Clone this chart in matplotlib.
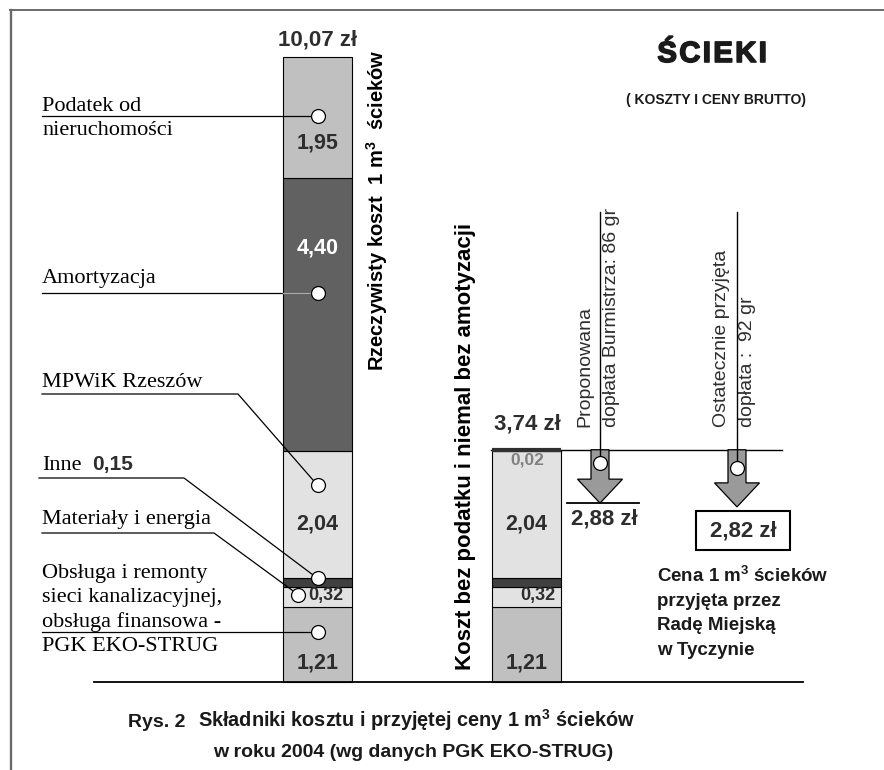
import numpy as np
import matplotlib.pyplot as plt
import matplotlib.patheffects as pe

plt.rcParams['font.family'] = ['Liberation Sans', 'DejaVu Sans']
plt.rcParams['mathtext.fontset'] = 'custom'
plt.rcParams['mathtext.bf'] = 'Liberation Sans:bold'
plt.rcParams['mathtext.rm'] = 'Liberation Sans'

# Dane: skladniki kosztu 1 m3 sciekow (zl), od dolu slupka
skladniki = ['PGK EKO-STRUG', 'Materiały i energia', 'Inne', 'MPWiK Rzeszów',
             'Amortyzacja', 'Podatek od nieruchomości']
koszt_rzeczywisty = [1.21, 0.32, 0.15, 2.04, 4.40, 1.95]
koszt_bez_podatku = [1.21, 0.32, 0.15, 2.04, 0.02, 0.00]
kolory = ['#c0c0c0', '#e2e2e2', '#404040', '#e2e2e2', '#616161', '#c0c0c0']
doplata_burmistrz = 0.86
doplata_przyjeta = 0.92

# Skala rysunku: 0 zl na wys. 682 px, 62.1 px na 1 zl
Y0, SKALA = 682.0, 62.1


def py(y_px):
    return (Y0 - y_px) / SKALA


def zl(v):
    return f'{v:.2f}'.replace('.', ',')


fig = plt.figure(figsize=(8.84, 7.70), dpi=100)
ax = fig.add_axes([0, 0, 1, 1])
ax.set_xlim(0, 884)
ax.set_ylim(py(770), py(0))
ax.axis('off')

serif = ['Liberation Serif', 'DejaVu Serif']
szary_txt = '#2e2e2e'
m3 = r'm$\mathbf{^3}$'

# ramka
ax.plot([10.5, 10.5], [py(10), py(770)], color='#6a6a6a', lw=1.7)
ax.plot([10, 884], [py(10.5), py(10.5)], color='#6a6a6a', lw=1.4)

# slupki
x1, x2, szer = 317.5, 526.3, 69
dol1 = np.concatenate([[0], np.cumsum(koszt_rzeczywisty)[:-1]])
dol2 = np.concatenate([[0], np.cumsum(koszt_bez_podatku)[:-1]])
ax.bar([x1] * 6, koszt_rzeczywisty, bottom=dol1, width=szer, color=kolory,
       edgecolor='black', linewidth=0.8, zorder=2)
ax.bar([x2] * 5, koszt_bez_podatku[:5], bottom=dol2[:5], width=szer,
       color=kolory[:5], edgecolor='black', linewidth=0.8, zorder=2)
ax.plot([x2 - szer / 2, x2 + szer / 2], [sum(koszt_bez_podatku)] * 2,
        color='#303030', lw=3, zorder=3, solid_capstyle='butt')

suma1 = sum(koszt_rzeczywisty)
suma2 = sum(koszt_bez_podatku)
ax.plot([94, 803], [0, 0], color='black', lw=1.3, zorder=3)

# etykiety wartosci w slupkach
frac_lab = [0.25, 0.55, None, 0.42, 0.743, 0.29]
for i, v in enumerate(koszt_rzeczywisty):
    if frac_lab[i] is None:
        continue
    xx = x1 + 8 if i == 1 else x1
    fs = 13 if i == 1 else 15.5
    c = 'white' if i == 4 else szary_txt
    ax.text(xx, dol1[i] + frac_lab[i] * v, zl(v), ha='center', va='center',
            fontsize=fs, fontweight='bold', color=c, zorder=5)
for i, v in enumerate(koszt_bez_podatku[:4]):
    if frac_lab[i] is None:
        continue
    xx = x2 + 12 if i == 1 else x2
    fs = 13 if i == 1 else 15.5
    ax.text(xx, dol2[i] + frac_lab[i] * v, zl(v), ha='center', va='center',
            fontsize=fs, fontweight='bold', color=szary_txt, zorder=5)
ax.text(x2 + 1, py(460), zl(koszt_bez_podatku[4]), ha='center', va='center',
        fontsize=12.5, fontweight='bold', color='#808080', zorder=5)

ax.text(x1, py(40), zl(suma1) + ' zł', ha='center', va='center',
        fontsize=16, fontweight='bold', color=szary_txt)
ax.text(527, py(424), zl(suma2) + ' zł', ha='center', va='center',
        fontsize=16, fontweight='bold', color=szary_txt)

# kolka i linie odniesienia
frac_kol = [0.665, 0.62, 0.93, 0.73, 0.58, 0.51]
kol_x = [x1, 298, x1, x1, x1, x1]
kol_y = [dol1[i] + frac_kol[i] * v for i, v in enumerate(koszt_rzeczywisty)]
sciezki = [
    [(42, None)],
    [(42, 533), (214, 533)],
    [(39, 478), (184, 478)],
    [(42, 394), (238, 394)],
    [(42, None)],
    [(42, None)],
]
for i in range(6):
    xs = [p[0] for p in sciezki[i]] + [kol_x[i]]
    ys = [kol_y[i] if p[1] is None else py(p[1]) for p in sciezki[i]] + [kol_y[i]]
    ax.plot(xs, ys, color='black', lw=0.9, zorder=4)
ax.plot([x1 - szer / 2, x1], [kol_y[4]] * 2, color='#aaaaaa', lw=1, zorder=4)
ax.plot(kol_x, kol_y, 'o', ms=10, mfc='white', mec='black', mew=0.9, zorder=6)

# opisy po lewej
ax.text(42, py(111), 'Podatek od', fontsize=16, family=serif, va='baseline')
ax.text(42, py(135), 'nieruchomości', fontsize=16, family=serif, va='baseline')
ax.text(42, py(283), skladniki[4], fontsize=16, family=serif, va='baseline')
ax.text(42, py(387), skladniki[3], fontsize=16, family=serif, va='baseline')
ax.text(42, py(470), skladniki[2], fontsize=16, family=serif, va='baseline')
ax.text(92, py(470), zl(koszt_rzeczywisty[2]), fontsize=15, fontweight='bold',
        va='baseline', color=szary_txt)
ax.text(42, py(524), skladniki[1], fontsize=16, family=serif, va='baseline')
obsluga = ['Obsługa i remonty', 'sieci kanalizacyjnej,', 'obsługa finansowa -',
           'PGK EKO-STRUG']
for k, s in enumerate(obsluga):
    ax.text(42, py(578 + 24.3 * k), s, fontsize=16, family=serif, va='baseline')

# napisy pionowe
ax.text(377, py(210), 'Rzeczywisty koszt  1 ' + m3 + '  ścieków', rotation=90,
        ha='center', va='center', fontsize=14.5, fontweight='bold')
ax.text(466, py(446), 'Koszt bez podatku i niemal bez amotyzacji', rotation=90,
        ha='center', va='center', fontsize=16, fontweight='bold')

# tytul
ax.text(712, py(54), 'Ś C I E K I'.replace(' ', '\u200a'), ha='center', va='center',
        fontsize=21, fontweight='bold', color='#1a1a1a',
        path_effects=[pe.withStroke(linewidth=1.2, foreground='#1a1a1a')])
ax.text(716, py(100), '( KOSZTY I CENY BRUTTO)', ha='center', va='center',
        fontsize=10, fontweight='bold', color='#1a1a1a')

# linia poziomu 3,74 i strzalki doplat
ax.plot([491, 782], [suma2, suma2], color='black', lw=1, zorder=1)
ceny = [suma2 - doplata_burmistrz, suma2 - doplata_przyjeta]
strz_x = [600, 737]
kol_strz = [py(463), py(468)]
for xs, cena, yk in zip(strz_x, ceny, kol_strz):
    glowa = cena + 24 / SKALA
    pts = [(xs - 9, suma2), (xs + 9, suma2), (xs + 9, glowa), (xs + 22.5, glowa),
           (xs, cena), (xs - 22.5, glowa), (xs - 9, glowa)]
    ax.add_patch(plt.Polygon(pts, closed=True, facecolor='#9a9a9a',
                             edgecolor='black', lw=0.9, zorder=3))
    ax.plot([xs, xs], [py(212), yk], color='black', lw=1, zorder=4)
    ax.plot([xs], [yk], 'o', ms=10, mfc='white', mec='black', mew=0.9, zorder=6)

ax.plot([567, 639], [ceny[0], ceny[0]], color='black', lw=1.3)
ax.text(604, py(519), zl(ceny[0]) + ' zł', ha='center', va='center',
        fontsize=16, fontweight='bold', color=szary_txt)
ax.add_patch(plt.Rectangle((696, py(550)), 94, 39 / SKALA, facecolor='white',
                           edgecolor='black', lw=1.5))
ax.text(743, py(531), zl(ceny[1]) + ' zł', ha='center', va='center',
        fontsize=16, fontweight='bold', color=szary_txt)

ax.text(585, py(427), 'Proponowana', rotation=90, ha='center', va='bottom',
        fontsize=14, color=szary_txt)
ax.text(611.5, py(427), 'dopłata Burmistrza: ' + str(round(doplata_burmistrz * 100)) + ' gr',
        rotation=90, ha='center', va='bottom', fontsize=14, color=szary_txt)
ax.text(721.5, py(427), 'Ostatecznie przyjęta', rotation=90, ha='center',
        va='bottom', fontsize=14, color=szary_txt)
ax.text(747.5, py(427), 'dopłata :  ' + str(round(doplata_przyjeta * 100)) + ' gr',
        rotation=90, ha='center', va='bottom', fontsize=14, color=szary_txt)

opis_ceny = ['Cena 1 ' + m3 + ' ścieków', 'przyjęta przez', 'Radę Miejską',
             'w Tyczynie']
for k, s in enumerate(opis_ceny):
    ax.text(657, py(582 + 24.2 * k), s, fontsize=13.5, fontweight='bold',
            va='baseline', color='#1a1a1a')

# podpis
ax.text(128, py(727), 'Rys. 2', fontsize=14, fontweight='bold', va='baseline',
        color='#1a1a1a')
ax.text(416, py(727), 'Składniki kosztu i przyjętej ceny 1 ' + m3 + ' ścieków',
        ha='center', fontsize=14.3, fontweight='bold', va='baseline', color='#1a1a1a')
ax.text(413, py(757), 'w roku 2004 (wg danych PGK EKO-STRUG)',
        ha='center', fontsize=14, fontweight='bold', va='baseline', color='#1a1a1a')

fig.savefig('out.png', dpi=100)
